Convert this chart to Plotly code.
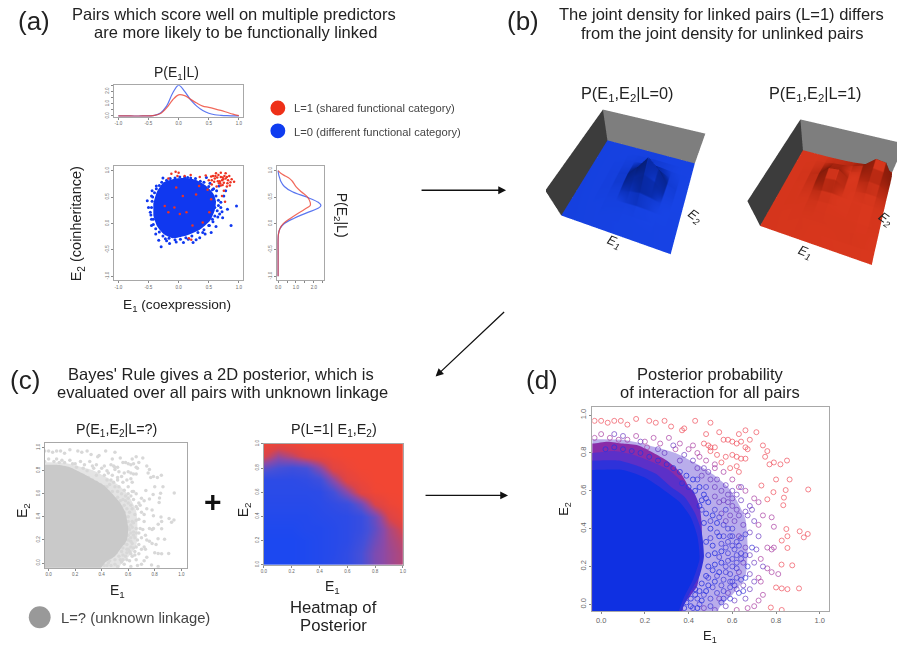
import plotly.graph_objects as go

W, H = 901, 646

# ---------- panel (a) data ----------
E1_GRID = [-1, -.8, -.6, -.4, -.3, -.2, -.1, 0, .1, .2, .3, .4, .5, .6, .7, .8, .9, 1]
E1_L0 = [0, 0, 0, .05, .25, .8, 1.85, 2.5, 2.0, 1.3, .8, .45, .22, .1, .05, .02, .01, 0]
E1_L1 = [0, 0, 0, .05, .2, .65, 1.3, 1.72, 1.65, 1.35, 1.05, .8, .7, .58, .45, .3, .15, .03]
E2_GRID = [1, .95, .9, .85, .8, .7, .6, .5, .4, .34, .3, .2, .1, 0, -.1, -.2, -.3, -.6, -1]
E2_L0 = [0, .02, .05, .1, .15, .35, .8, 1.6, 2.25, 2.4, 2.3, 1.6, .9, .35, .1, .02, 0, 0, 0]
E2_L1 = [0, .15, .4, .65, .8, 1.0, 1.3, 1.65, 1.8, 1.8, 1.65, 1.15, .7, .3, .1, .02, 0, 0, 0]
A_CORE = [(-.42, .38), (-.36, .6), (-.25, .78), (-.1, .84), (.1, .86), (.3, .82), (.45, .72), (.58, .56),
          (.62, .42), (.6, .25), (.52, .05), (.35, -.12), (.1, -.24), (-.1, -.28), (-.25, -.2), (-.36, -.05), (-.42, .15)]
A_BLUE = [(-.52, .43), (-.47, .21), (-.45, -.04), (-.38, -.2), (-.29, -.44), (-.04, -.35), (.08, -.36), (.29, -.31),
          (.54, -.17), (.87, -.04), (.96, .33), (.81, .27), (.75, .52), (.67, .71), (-.26, .86), (-.37, .71),
          (-.45, .52), (-.42, .08), (-.2, -.33), (.24, -.36), (.56, .08), (.73, .11), (.51, -.04), (-.5, .3),
          (-.16, .77), (.15, .87), (.46, .87), (.7, .4), (.68, .18), (.62, -.06), (.44, -.2), (.35, -.27),
          (-.33, -.32), (-.15, -.38), (.78, .62), (.63, .62), (-.44, .62),
          (-.45, .3), (-.44, .42), (-.43, .5), (-.4, .58), (-.37, .66), (-.32, .72), (-.28, .78), (-.2, .82), (-.14, .85),
          (-.06, .86), (.02, .88), (.1, .88), (.2, .86), (.28, .85), (.36, .8), (.42, .78), (.5, .7), (.56, .64), (.62, .52),
          (.66, .44), (.66, .34), (.64, .24), (.6, .14), (.57, .03), (.5, -.04), (.42, -.12), (.32, -.17), (.22, -.24),
          (.12, -.27), (.03, -.3), (-.06, -.31), (-.16, -.28), (-.26, -.24), (-.32, -.16), (-.38, -.1), (-.42, -.02),
          (-.45, .08), (-.46, .16), (-.22, -.29), (.16, -.3), (.4, -.17), (.6, .3), (.7, .3), (.65, .12), (.72, .22),
          (.58, .66), (.52, .76)]
A_RED = [(-.05, .98), (-.12, .94), (0, .96), (-.17, .85), (.45, .91), (.54, .89), (.62, .95), (.7, .96), (.78, .95),
         (.84, .9), (.92, .79), (.88, .84), (.73, .87), (.68, .8), (.64, .87), (.59, .79), (.75, .77), (.81, .76),
         (.7, .72), (.55, .74), (.48, .64), (.75, .62), (.72, .52), (.77, .41), (.54, .46), (-.23, .33), (-.07, .3),
         (.02, .18), (.13, .21), (-.17, .21), (.23, -.04), (.4, .02), (.21, -.31), (.17, -.28), (.51, .21),
         (.29, .55), (.07, .52), (-.04, .68), (.34, .71), (.66, .92), (.72, .82), (.78, .85), (.6, .85), (.67, .76),
         (.82, .82), (.76, .9), (.5, .82), (.57, .9), (.85, .72), (.63, .7), (.1, .9), (.2, .92), (.35, .88), (-.02, .9),
         (.7, .88), (.74, .84), (.8, .88), (.65, .8), (.69, .76), (.73, .73), (.61, .9), (.55, .82), (.8, .7), (.86, .78)]

# ---------- panel (b) data: heights on a grid over E1 (columns) and E2 (rows) ----------
B_AXIS = [0, .1, .2, .3, .4, .5, .6, .7, .8, .9, 1]
B_L0 = [
    [0, 0, 0, 0, 0, 0, 0, 0, 0, 0, 0],
    [0, 0, 0, 0, 0, 0, 0, 0, 0, 0, 0],
    [0, 0, 0, 0, .01, .02, .02, .01, 0, 0, 0],
    [0, 0, 0, .01, .03, .05, .07, .05, .02, 0, 0],
    [0, 0, 0, .02, .06, .18, .25, .18, .07, .01, 0],
    [0, 0, 0, .02, .09, .36, .6, .46, .12, .02, 0],
    [0, 0, 0, .02, .09, .45, .9, .6, .14, .02, 0],
    [0, 0, 0, .01, .05, .22, .42, .25, .09, .01, 0],
    [0, 0, 0, 0, .02, .05, .1, .07, .03, 0, 0],
    [0, 0, 0, 0, 0, .01, .02, .01, 0, 0, 0],
    [0, 0, 0, 0, 0, 0, 0, 0, 0, 0, 0]]
B_L1 = [
    [0, 0, 0, 0, 0, 0, 0, 0, 0, 0, 0],
    [0, 0, 0, 0, .01, .01, .01, .01, .01, .01, 0],
    [0, 0, 0, .01, .02, .03, .04, .05, .06, .05, .02],
    [0, 0, .01, .02, .05, .07, .08, .09, .1, .09, .03],
    [0, 0, .01, .03, .08, .1, .1, .1, .12, .1, .04],
    [0, 0, .01, .06, .16, .18, .13, .12, .13, .12, .05],
    [0, 0, .02, .1, .34, .38, .2, .15, .2, .18, .06],
    [0, 0, .02, .11, .42, .46, .24, .21, .34, .3, .1],
    [0, 0, .01, .06, .24, .28, .22, .28, .54, .5, .14],
    [0, 0, 0, .02, .08, .11, .16, .28, .6, .56, .15],
    [0, 0, 0, 0, .01, .02, .04, .08, .14, .14, .04]]
B_WALL = [[0, 0], [1, 1]]

# ---------- panel (c) data ----------
HEAT_AXIS = [0, .1, .2, .3, .4, .5, .6, .7, .8, .9, 1]
POSTERIOR = [
    [0, 0, 0, .02, .05, .1, .15, .3, .5, .6, .68],
    [0, 0, 0, .02, .05, .08, .15, .3, .5, .6, .68],
    [0, 0, 0, .02, .05, .08, .12, .25, .45, .62, .72],
    [.02, .02, .02, .05, .05, .08, .12, .2, .4, .65, .8],
    [.05, .05, .05, .05, .08, .1, .12, .2, .45, .8, .95],
    [.08, .08, .08, .08, .1, .15, .22, .45, .8, .95, 1],
    [.1, .1, .1, .1, .12, .28, .55, .85, .98, 1, 1],
    [.12, .12, .12, .15, .25, .55, .85, .95, 1, 1, 1],
    [.4, .3, .25, .3, .55, .85, .95, 1, 1, 1, 1],
    [.8, .6, .7, .85, .92, .98, 1, 1, 1, 1, 1],
    [.95, .9, .95, 1, 1, 1, 1, 1, 1, 1, 1]]
C_CORE = [(-.2, .85), (-.04, .85), (.06, .85), (.16, .83), (.25, .78), (.33, .73), (.42, .67), (.48, .6), (.54, .52), (.58, .43),
          (.6, .3), (.59, .2), (.54, .12), (.5, .06), (.43, .01), (.36, -.1), (.3, -.2), (-.2, -.2)]

# ---------- panel (d) data ----------
D_HALO = [(-.2, .87), (.1, .87), (.22, .84), (.34, .8), (.44, .74), (.52, .68), (.58, .62), (.62, .55), (.66, .45), (.67, .3),
          (.66, .15), (.6, .05), (.54, -.02), (.5, -.2), (-.2, -.2)]
D_LAYER1 = [(-.2, .85), (-.04, .85), (.03, .86), (.1, .85), (.17, .84), (.24, .8), (.3, .76), (.36, .7), (.4, .62),
            (.42, .5), (.42, .3), (.38, .05), (.34, -.2), (-.2, -.2)]
D_LAYER2 = [(-.2, .8), (-.04, .8), (.06, .81), (.15, .79), (.24, .75), (.31, .71), (.36, .66), (.42, .6), (.45, .52), (.46, .42),
            (.46, .3), (.44, .1), (.38, .0), (.32, -.2), (-.2, -.2)]
D_LAYER3 = [(-.2, .76), (-.04, .76), (.08, .76), (.17, .73), (.25, .69), (.32, .62), (.38, .57), (.43, .48), (.46, .38),
            (.47, .25), (.45, .15), (.41, .07), (.36, -.05), (.3, -.2), (-.2, -.2)]
D_CORE = [(-.2, .71), (-.04, .71), (.1, .71), (.2, .67), (.28, .61), (.36, .54), (.41, .46), (.44, .36), (.45, .24),
          (.42, .13), (.38, .04), (.34, -.08), (.28, -.2), (-.2, -.2)]
D_RED = [(-.03, .97), (0, .97), (.03, .96), (.06, .97), (.09, .97), (.12, .95), (.16, .98), (.22, .97), (.25, .96),
         (.29, .97), (.32, .94), (.37, .92), (.38, .93), (.43, .97), (.5, .96), (.48, .9), (.54, .91), (.63, .9),
         (.66, .92), (.71, .91), (.74, .84), (.76, .81), (.75, .78), (.82, .74), (.85, .76), (.79, .75), (.77, .74),
         (.8, .66), (.862, .66), (.947, .607), (.844, .604), (.836, .564), (.833, .524), (.788, .593), (.733, .628),
         (.76, .555), (.908, .386), (.927, .354), (.945, .372), (.847, .398), (.852, .36), (.826, .337), (.852, .298),
         (.874, .206), (.825, .21), (.905, .084), (.852, .08), (.826, .084), (.8, .089), (.826, -.03), (.776, -.017),
         (.49, .84), (.5, .83), (.52, .83), (.47, .85), (.5, .81), (.56, .87), (.58, .87), (.6, .86), (.62, .85),
         (.64, .86), (.6, .79), (.62, .78), (.64, .77), (.66, .77), (.67, .82), (.68, .87), (.57, .78), (.55, .75),
         (.62, .73), (.63, .7), (.59, .72), (.66, .83), (.53, .79)]
D_MAG = [(-.03, .88), (0, .9), (.04, .88), (.08, .87), (.12, .87), (.16, .89), (.2, .86), (.24, .88), (.27, .85),
         (.31, .88), (.36, .85), (.4, .82), (.42, .84), (.45, .78), (.48, .76), (.52, .74), (.56, .7), (.6, .66),
         (.63, .62), (.66, .6), (.7, .56), (.72, .54), (.74, .47), (.78, .46), (.79, .41), (.72, .42), (.76, .3),
         (.79, .3), (.78, .29), (.73, .24), (.76, .19), (.78, .17), (.81, .16), (.72, .14), (.73, .12), (.74, .05),
         (.72, .02), (.7, -.01), (.62, -.03), (.67, -.02), (.52, .72), (.44, .8), (.34, .82), (.21, .83)]
D_PURPLE = [(.46, .68), (.5, .66), (.52, .62), (.55, .6), (.58, .58), (.6, .6), (.62, .58), (.64, .55), (.68, .52),
            (.69, .5), (.67, .47), (.62, .5), (.58, .54), (.55, .48), (.57, .44), (.61, .44), (.65, .42), (.68, .38),
            (.7, .44), (.72, .36), (.63, .36), (.66, .3), (.68, .26), (.7, .22), (.65, .22), (.63, .17), (.68, .16),
            (.65, .1), (.62, .08), (.68, .08), (.61, .02), (.58, .06), (.57, -.01), (.54, .03), (.52, -.03), (.47, -.02),
            (.71, .29), (.74, .2), (.7, .12), (.66, .03), (.44, .72), (.36, .76), (.29, .8), (.6, .52), (.64, .62),
            (.56, .55), (.59, .47), (.63, .47), (.66, .49), (.6, .56), (.54, .54), (.52, .57), (.57, .63), (.53, .66),
            (.49, .7), (.47, .72), (.42, .76), (.38, .79), (.33, .84), (.26, .82), (.18, .86), (.1, .89), (.06, .9)]
D_BLUE = [(.46, .5), (.48, .56), (.5, .44), (.52, .5), (.5, .35), (.53, .38), (.55, .32), (.54, .25), (.57, .3), (.59, .36),
          (.61, .29), (.6, .24), (.57, .2), (.53, .15), (.56, .13), (.59, .16), (.62, .22), (.64, .27), (.6, .12),
          (.56, .07), (.51, .09), (.5, .03), (.47, .05), (.44, .03), (.45, .0), (.42, -.02), (.6, .4), (.59, .09),
          (.48, .62), (.44, .66), (.57, .5), (.63, .31), (.55, .1), (.49, .14), (.62, .14), (.58, .27),
          (.56, .42), (.58, .4), (.6, .36), (.62, .33), (.64, .35), (.66, .37), (.56, .36), (.58, .33), (.6, .31), (.62, .26),
          (.64, .24), (.66, .26), (.58, .23), (.6, .2), (.62, .19), (.64, .13), (.66, .14), (.67, .2), (.69, .3), (.57, .17),
          (.59, .12), (.61, .1), (.63, .06), (.65, .07), (.59, .03), (.56, .03), (.53, .06), (.55, .01), (.5, -.01), (.54, .46)]
D_EDGE = [(.02, .82), (.06, .83), (.1, .82), (.14, .81), (.18, .8), (.22, .78), (.26, .76), (.3, .74), (.33, .72), (.36, .7),
          (.39, .68), (.42, .66), (.45, .62), (.47, .58), (.43, .6), (.4, .62), (.37, .64), (.49, .54), (.46, .55), (.51, .47),
          (.48, .48), (.45, .52), (.53, .43), (.5, .4), (.47, .43), (.54, .36), (.51, .31), (.48, .33), (.55, .28), (.52, .27),
          (.49, .26), (.55, .22), (.52, .21), (.49, .2), (.54, .17), (.51, .18), (.48, .15), (.52, .12), (.49, .1), (.46, .11),
          (.48, .07), (.45, .07), (.43, .08), (.46, .02), (.43, .05), (.41, .03), (.39, .01), (.41, -.01), (.38, -.02), (.44, -.02)]

# ---------- text ----------
TITLES = [
    ("Pairs which score well on multiple predictors", 233, 10), ("are more likely to be functionally linked", 234, 28),
    ("The joint density for linked pairs (L=1) differs", 724, 10), ("from the joint density for unlinked pairs", 725, 29),
    ("Bayes' Rule gives a 2D posterior, which is", 220, 373), ("evaluated over all pairs with unknown linkage", 221, 392),
    ("Posterior probability", 713, 373), ("of interaction for all pairs", 713, 392)]
LETTERS = [("(a)", 31, 17), ("(b)", 524, 17), ("(c)", 22, 380), ("(d)", 543, 380)]


def xs(p):
    return [a for a, _ in p]


def ys(p):
    return [b for _, b in p]


fig = go.Figure()


def dom(x0, x1, y0, y1):
    return dict(x=[x0 / W, x1 / W], y=[1 - y1 / H, 1 - y0 / H])


def axis(n, d, xr, yr, xt, yt, xl, yl, size=4.5, angle=-90):
    common = dict(showgrid=False, zeroline=False, showline=True, mirror=True, linecolor="#a8a8a8", linewidth=1,
                  ticks="outside", ticklen=2, tickcolor="#888888", tickfont=dict(size=size, color="#666666",
                  family="Liberation Sans"), fixedrange=True)
    fig.update_layout(**{
        f"xaxis{n}": dict(domain=d["x"], range=xr, tickmode="array", tickvals=xt, ticktext=xl, anchor=f"y{n}", tickangle=0, **common),
        f"yaxis{n}": dict(domain=d["y"], range=yr, tickmode="array", tickvals=yt, ticktext=yl, anchor=f"x{n}", tickangle=angle, **common)})


def line(x, y, c, n):
    fig.add_trace(go.Scatter(x=x, y=y, mode="lines", line=dict(color=c, width=1.2, shape="spline"), xaxis=f"x{n}", yaxis=f"y{n}", opacity=.8))


def poly(p, c, n):
    fig.add_trace(go.Scatter(x=xs(p), y=ys(p), mode="lines", fill="toself", fillcolor=c, line=dict(color=c, width=0, shape="spline", smoothing=.6), xaxis=f"x{n}", yaxis=f"y{n}"))


def pts(p, c, n, size=2, sym="circle", op=1, width=0):
    fig.add_trace(go.Scatter(x=xs(p), y=ys(p), mode="markers", marker=dict(color=c, size=size, symbol=sym, opacity=op, line=dict(color=c, width=width)), xaxis=f"x{n}", yaxis=f"y{n}"))


RED, BLUE = "#ee3322", "#1038f0"
T5 = [-1, -.5, 0, .5, 1]
L5 = ["-1.0", "-0.5", "0.0", "0.5", "1.0"]
T6 = [0, .2, .4, .6, .8, 1]
L6 = ["0.0", "0.2", "0.4", "0.6", "0.8", "1.0"]
D0 = [0, .5, 1, 1.5, 2, 2.5]
DL = ["0.0", "", "1.0", "", "2.0", ""]

# a top marginal
axis("", dom(112, 242, 82, 114), [-1.07, 1.07], [-.08, 2.5], T5, D0, L5, DL)
line(E1_GRID, E1_L0, "#3355ee", "")
line(E1_GRID, E1_L1, "#ee4433", "")
# a scatter
axis(2, dom(112, 242, 164, 279), [-1.07, 1.07], [-1.08, 1.08], T5, T5, L5, L5)
pts(A_BLUE, BLUE, 2, 3)
poly(A_CORE, BLUE, 2)
pts(A_RED, RED, 2, 2.5)
# a right marginal
axis(3, dom(276, 324, 164, 279), [-.07, 2.6], [-1.08, 1.08], D0, T5, DL, L5)
line(E2_L0, E2_GRID, "#3355ee", 3)
line(E2_L1, E2_GRID, "#ee4433", 3)
# c scatter
axis(4, dom(42, 185, 443, 569), [-.03, 1.04], [-.04, 1.04], T6, T6, L6, L6)
GRAY_PTS = D_RED + D_MAG + D_PURPLE + D_BLUE + D_EDGE
poly(D_HALO, "rgba(210,210,210,.6)", 4)
pts(GRAY_PTS, "#d8d8d8", 4, 3.5)
poly(C_CORE, "#c9c9c9", 4)
# c heatmap
axis(5, dom(263, 403, 444, 566), [0, 1], [0, 1], T6, T6, L6, L6)
fig.add_trace(go.Heatmap(x=HEAT_AXIS, y=HEAT_AXIS, z=POSTERIOR, zsmooth="best", showscale=False, zmin=0, zmax=1,
                         colorscale=[[0, "#1c48f0"], [.3, "#4650d8"], [.55, "#8a4aa8"], [.8, "#dc4448"], [1, "#f24633"]],
                         xaxis="x5", yaxis="y5"))
# d
axis(6, dom(594, 832, 407, 613), [-.04, 1.04], [-.037, 1.042], T6, T6, L6, L6, size=7.5)
poly(D_HALO, "rgba(80,50,205,.4)", 6)
pts(D_RED, "#ee4a58", 6, 5, "circle-open", .85, .8)
pts(D_MAG, "#a83aa0", 6, 5, "circle-open", .85, .8)
pts(D_PURPLE, "#6a38c0", 6, 5, "circle-open", .85, .8)
pts(D_BLUE, "#3a36d8", 6, 5, "circle-open", .85, .8)
poly(D_LAYER1, "#8a2ca8", 6)
poly(D_LAYER2, "#5c30c8", 6)
poly(D_LAYER3, "#2e32da", 6)
poly(D_CORE, "#0f30e2", 6)
pts(D_EDGE, "#2a34e0", 6, 5, "circle-open", .9, .9)


# b surfaces
def solid(c):
    return [[0, c], [1, c]]


def scene_traces(z, c, name):
    fig.add_trace(go.Surface(x=B_AXIS, y=B_AXIS, z=z, scene=name, surfacecolor=z, colorscale=solid(c), showscale=False,
                             lighting=dict(ambient=.3, diffuse=.7, specular=.04, roughness=.5, fresnel=0),
                             lightposition=dict(x=0, y=0, z=1000)))
    flat = dict(ambient=1, diffuse=0, specular=0, fresnel=0)
    fig.add_trace(go.Surface(x=[[0, 0], [0, 0]], y=[[0, 1], [0, 1]], z=B_WALL, scene=name, colorscale=solid("#3c3c3c"), showscale=False, lighting=flat, surfacecolor=B_WALL))
    fig.add_trace(go.Surface(x=[[0, 1], [0, 1]], y=[[1, 1], [1, 1]], z=B_WALL, scene=name, colorscale=solid("#7e7e7e"), showscale=False, lighting=flat, surfacecolor=B_WALL))


def scene(x0, x1, y0, y1, eye, center):
    off = dict(visible=False, showbackground=False, autorange=False)
    return dict(domain=dom(x0, x1, y0, y1), aspectmode="manual", aspectratio=dict(x=1, y=1, z=.42),
                xaxis=dict(range=[-.01, 1.01], **off), yaxis=dict(range=[-.01, 1.01], **off), zaxis=dict(range=[-.02, 1.02], **off),
                camera=dict(eye=eye, up=dict(x=0, y=0, z=1), center=center),
                bgcolor="rgba(0,0,0,0)")


scene_traces(B_L0, "#0a36d8", "scene")
scene_traces(B_L1, "#cc2a10", "scene2")


def ann(text, x, y, size, angle=0, color="#222222", anchor="center", italic=False):
    fig.add_annotation(text=f"<i>{text}</i>" if italic else text, x=x / W, y=1 - y / H, xref="paper", yref="paper", showarrow=False,
                       font=dict(size=size, color=color, family="Liberation Sans"), textangle=angle, xanchor=anchor, yanchor="middle")


for t, x, y in TITLES:
    ann(t, x, y, 16.5)
for t, x, y in LETTERS:
    ann(t, x, y, 26)
ann("P(E<sub>1</sub>|L)", 175, 70, 14)
ann("E<sub>2</sub> (coinheritance)", 75, 222, 14.5, -90)
ann("E<sub>1</sub> (coexpression)", 175, 304, 13.7)
ann("P(E<sub>2</sub>|L)", 341, 213, 14, 90)
ann("L=1 (shared functional category)", 291, 105, 11.2, anchor="left", color="#444444")
ann("L=0 (different functional category)", 291, 129, 11.2, anchor="left", color="#444444")
ann("P(E<sub>1</sub>,E<sub>2</sub>|L=0)", 629, 91, 16.3)
ann("P(E<sub>1</sub>,E<sub>2</sub>|L=1)", 819, 91, 16.3)
ann("E<sub>1</sub>", 616, 241, 13, 22, italic=True)
ann("E<sub>2</sub>", 697, 214, 13, 35, italic=True)
ann("E<sub>1</sub>", 808, 251, 13, 22, italic=True)
ann("E<sub>2</sub>", 889, 218, 13, 35, italic=True)
ann("P(E<sub>1</sub>,E<sub>2</sub>|L=?)", 114, 430, 14.3)
ann("P(L=1| E<sub>1</sub>,E<sub>2</sub>)", 334, 430, 14.4)
ann("E<sub>1</sub>", 115, 592, 14)
ann("E<sub>2</sub>", 20, 511, 14, -90)
ann("E<sub>1</sub>", 332, 588, 14)
ann("E<sub>2</sub>", 243, 511, 14, -90)
ann("Heatmap of", 333, 609, 16.7)
ann("Posterior", 333, 627, 16.7)
ann("L=? (unknown linkage)", 56, 620, 14.8, anchor="left", color="#444444")
ann("<b>+</b>", 212, 502, 30, color="#111111")
ann("E<sub>2</sub>", 566, 510, 13, -90)
ann("E<sub>1</sub>", 713, 638, 13)

for (x1, y1, x0, y0) in [(507, 188, 421, 188), (436, 376, 506, 310), (509, 496, 425, 496)]:
    fig.add_annotation(x=x1 / W, y=1 - y1 / H, xref="paper", yref="paper", ax=x0 - x1, ay=y0 - y1, axref="pixel", ayref="pixel",
                       text="", showarrow=True, arrowhead=2, arrowsize=1.2, arrowwidth=1.3, arrowcolor="#111111")

for (cx, cy, r, c) in [(277, 105, 7.5, "#ee3018"), (277, 128, 7.5, "#0f3cf0"), (37, 619, 11, "#999999")]:
    fig.add_shape(type="circle", xref="paper", yref="paper", x0=(cx - r) / W, x1=(cx + r) / W, y0=1 - (cy + r) / H, y1=1 - (cy - r) / H,
                  fillcolor=c, line=dict(width=0))

fig.update_layout(width=W, height=H, margin=dict(l=0, r=0, t=0, b=0), paper_bgcolor="white", plot_bgcolor="white", showlegend=False,
                  scene=scene(547, 727, 91, 271, dict(x=.4, y=-1.05, z=1.5), dict(x=.02, y=0, z=-.12)),
                  scene2=scene(743, 901, 100, 280, dict(x=.264, y=-1.085, z=1.5), dict(x=-.116, y=-.035, z=-.12)))
fig.write_html("out.html", config=dict(displayModeBar=False), post_script="document.body.style.margin='0';document.body.style.overflow='hidden';")
